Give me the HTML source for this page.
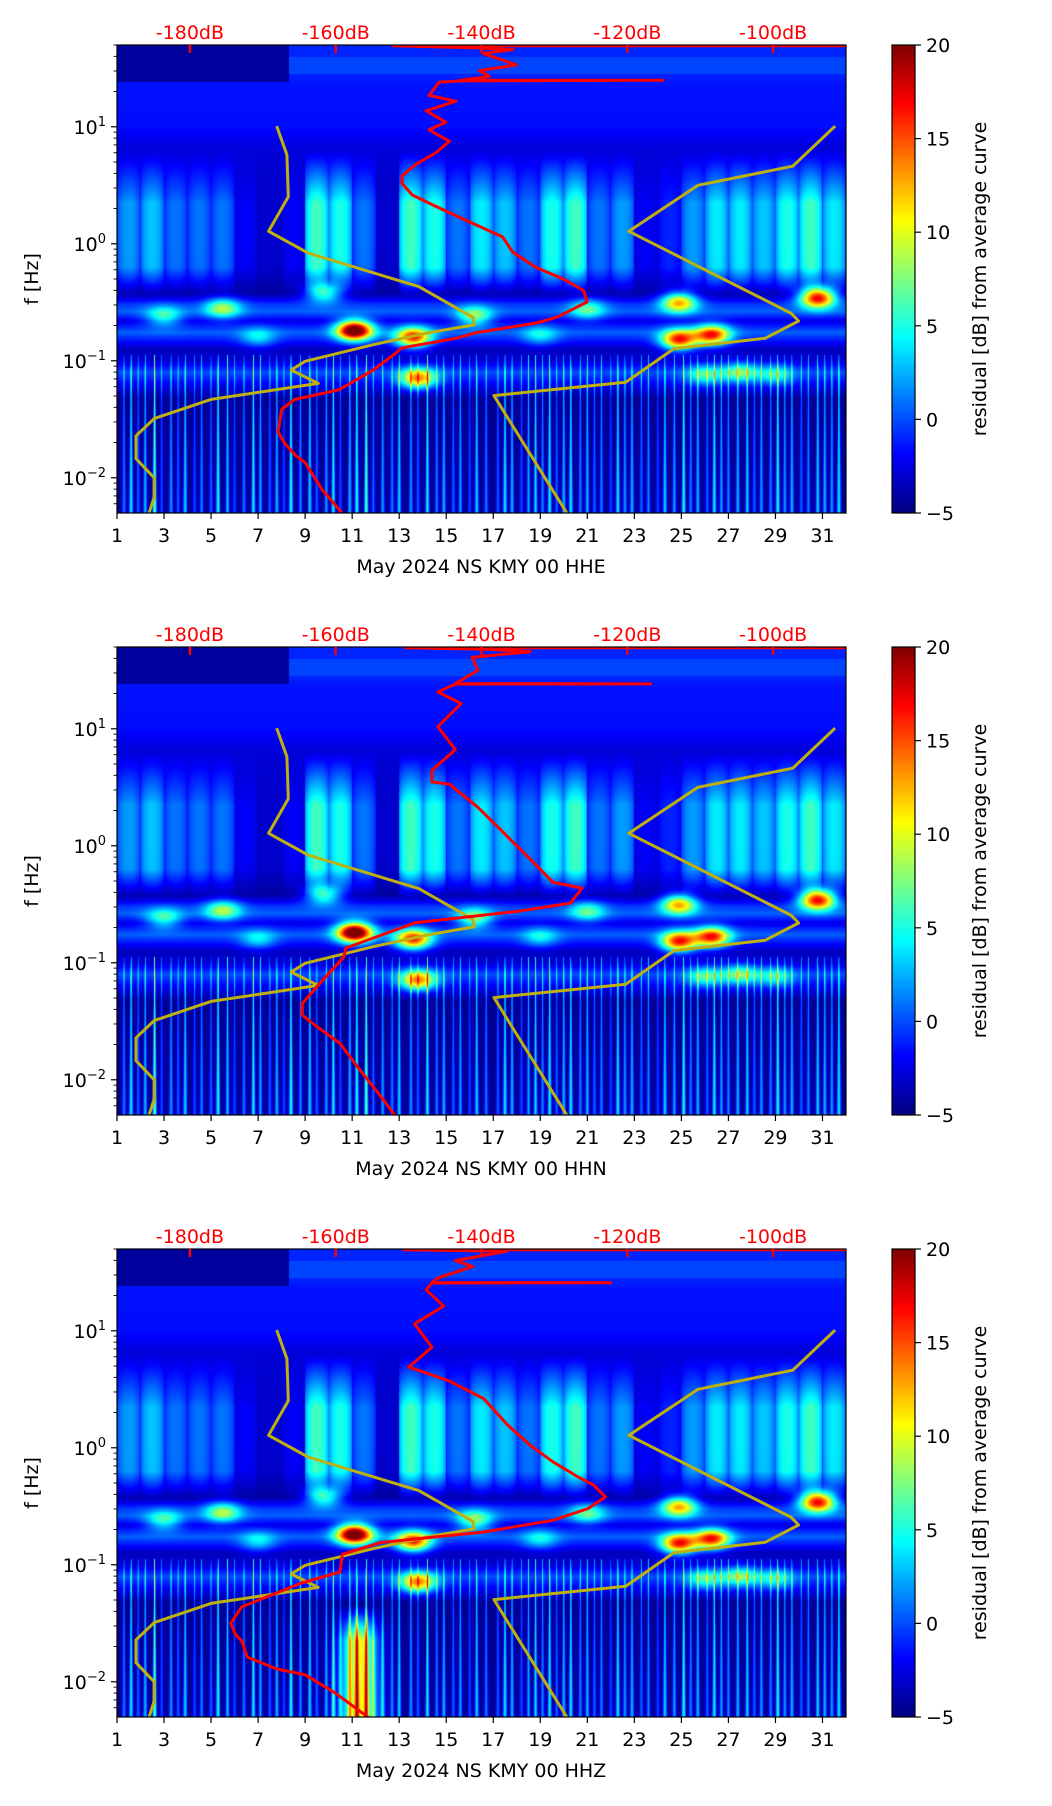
<!DOCTYPE html>
<html><head><meta charset="utf-8">
<style>
html,body{margin:0;padding:0;background:#fff;}
#wrap{position:relative;width:1052px;height:1806px;overflow:hidden;font-family:"DejaVu Sans","Liberation Sans",sans-serif;}
canvas{position:absolute;}
svg{position:absolute;left:0;top:0;}
</style></head>
<body>
<div id="wrap">
<canvas id="hm0" width="729" height="468" style="left:117px;top:45px"></canvas>
<canvas id="hm1" width="729" height="468" style="left:117px;top:647px"></canvas>
<canvas id="hm2" width="729" height="468" style="left:117px;top:1249px"></canvas>
<canvas id="cb0" width="23" height="468" style="left:892px;top:45px"></canvas>
<canvas id="cb1" width="23" height="468" style="left:892px;top:647px"></canvas>
<canvas id="cb2" width="23" height="468" style="left:892px;top:1249px"></canvas>
<svg id="ov" width="1052" height="1806" xmlns="http://www.w3.org/2000/svg"></svg>
</div>
<script>
// ---- data ----
const dayTicks = [1,3,5,7,9,11,13,15,17,19,21,23,25,27,29,31];
const dbTicks = [-180,-160,-140,-120,-100];
const cbTicks = [-5,0,5,10,15,20];
const yDecades = [-2,-1,0,1];
const channels = ["HHE","HHN","HHZ"];
// NLNM (left yellow) : dB , log10 f
const nlnmDb = [-168.1,-166.7,-166.5,-169.2,-163.8,-148.6,-141.2,-141.0,-147.2,-154.5,-164.2,-166.1,-162.4,-177.1,-184.9,-187.4,-187.4,-184.9,-184.9,-185.6];
const nlnmLf = [1.006,0.761,0.402,0.107,-0.079,-0.366,-0.628,-0.693,-0.759,-0.857,-1.004,-1.079,-1.193,-1.330,-1.494,-1.641,-1.837,-2.000,-2.164,-2.301];
// NHNM (right yellow)
const nhnmDb = [-91.5,-97.3,-110.3,-119.8,-97.5,-96.5,-101.1,-113.6,-120.2,-138.3,-128.3];
const nhnmLf = [1.006,0.663,0.500,0.107,-0.595,-0.660,-0.808,-0.896,-1.183,-1.298,-2.301];
// red PSD curves per channel
const red0Db = [-90,-152.2,-141,-135.7,-139.8,-135.2,-140.3,-138.9,-142.8,-115.1,-142.8,-145.8,-147.2,-143.5,-147.6,-144.9,-147.2,-144.4,-146.3,-149.0,-150.9,-150.9,-149.5,-146.3,-141.7,-137.1,-135.7,-132.5,-128.8,-126.0,-125.5,-129.7,-132.5,-140.7,-143.5,-150.9,-152.2,-155.0,-158.2,-159.6,-165.6,-167.4,-167.9,-167.0,-165.6,-164.2,-161.9,-159.2];
const red0Lf = [1.692,1.692,1.675,1.660,1.627,1.529,1.480,1.431,1.398,1.398,1.392,1.382,1.268,1.219,1.137,1.039,0.974,0.876,0.777,0.679,0.581,0.516,0.418,0.320,0.189,0.059,-0.072,-0.203,-0.301,-0.399,-0.497,-0.628,-0.677,-0.759,-0.808,-0.889,-0.955,-1.085,-1.200,-1.249,-1.330,-1.412,-1.608,-1.706,-1.804,-1.870,-2.098,-2.295];
const red1Db = [-90,-150.5,-139.6,-133.3,-141.3,-140.5,-143.6,-116.8,-143.6,-146,-142.8,-146,-143.6,-146.8,-146.8,-144.4,-140.5,-138.1,-133.3,-130.2,-126.2,-127.8,-134.9,-149.1,-158.6,-158.9,-161.8,-164.6,-164.6,-162.6,-159.4,-157.0,-153.9,-151.8];
const red1Lf = [1.692,1.692,1.68,1.66,1.61,1.5,1.386,1.384,1.382,1.314,1.216,1.019,0.822,0.644,0.546,0.526,0.329,0.181,-0.115,-0.312,-0.362,-0.49,-0.559,-0.657,-0.874,-0.953,-1.15,-1.348,-1.446,-1.545,-1.69,-1.89,-2.136,-2.31];
const red2Db = [-90,-150.7,-136.5,-143.6,-141.2,-146.0,-146.8,-122.3,-146.8,-147.6,-145.2,-149.2,-146.8,-150.0,-147.6,-144.4,-139.7,-136.5,-133.3,-130.2,-127.0,-124.6,-123.0,-125.4,-130.2,-139.7,-153.9,-159.1,-159.4,-164.9,-172.9,-174.4,-173.7,-172.9,-172.1,-168.1,-164.2,-160.2,-155.5];
const red2Lf = [1.692,1.692,1.68,1.60,1.55,1.45,1.412,1.41,1.408,1.35,1.21,1.06,0.86,0.69,0.64,0.57,0.42,0.20,0.02,-0.12,-0.24,-0.32,-0.42,-0.52,-0.62,-0.72,-0.81,-0.91,-1.06,-1.16,-1.36,-1.50,-1.60,-1.65,-1.79,-1.89,-1.94,-2.09,-2.304];
// spectrogram background profile (residual dB vs log10 f)
const baseLf  = [1.70,1.45,1.35,1.00,0.85,0.70,0.55,0.40,0.00,-0.30,-0.42,-0.52,-0.58,-0.66,-0.76,-0.90,-1.00,-1.10,-1.22,-1.32,-2.30];
const baseVal = [-1.0,-1.0,-1.5,-1.6,-2.6,-3.2,-3.6,-4.0,-4.0,-4.2,-4.3,-0.5,0.5,-2.5,0.5,-3.5,-3.0,0.0,-2.5,-4.5,-4.5];
// per-day plume strength (0.3-3 Hz)
const plumeAmp = [6,7,5,5,5,2,1,2,10,9,5,1,10,9,5,8,7,5,9,10,5,6,2,3,6,8,8,7,9,10,8];
// blobs: day, log10 f, amplitude
const blobDay = [11.1,13.6,13.8,24.9,24.9,26.3,30.8,16.2,5.5,9.8,27.5,21.0,3.0,26.0,29.0,7.0,19.0];
const blobLf  = [-0.74,-0.80,-1.15,-0.50,-0.82,-0.78,-0.46,-0.62,-0.55,-0.42,-1.10,-0.56,-0.62,-1.12,-1.12,-0.80,-0.78];
const blobAmp = [24,17,15,14,18,17,20,9,9,9,8,7,7,7,6,5,5];
// low-frequency vertical streaks: day, amplitude
const streakDay = [1.3,1.6,1.9,2.2,2.6,2.9,3.3,3.6,3.9,4.3,4.6,5.0,5.3,5.7,6.0,6.4,6.8,7.1,7.5,7.8,8.1,8.4,8.8,9.2,9.5,9.9,10.2,10.5,10.9,11.2,11.6,11.9,12.3,12.7,13.0,13.5,13.8,14.2,14.6,14.9,15.3,15.6,16.0,16.3,16.7,17.2,17.5,17.8,18.2,18.5,18.8,19.1,19.4,19.7,20.0,20.3,20.7,21.0,21.3,21.6,22.0,22.3,22.6,22.9,23.3,23.6,24.0,24.3,24.7,25.1,25.4,25.7,26.1,26.4,26.7,27.0,27.4,27.8,28.1,28.4,28.8,29.1,29.4,29.7,30.1,30.4,30.8,31.1,31.4,31.7];
const streakAmp = [8,12,7,10,15,6,9,7,11,6,8,7,13,10,6,8,12,9,7,10,6,13,8,11,7,9,12,6,10,13,15,7,9,8,11,9,7,12,8,10,7,9,6,11,8,7,12,10,6,9,11,8,12,7,10,12,8,10,7,8,6,12,9,10,7,8,6,11,9,13,8,10,7,12,9,8,10,11,7,9,8,13,9,10,7,8,11,10,9,12];

// ---- geometry ----
const X0=117, W=729, H=468, TOPS=[45,647,1249];
const LFMIN=-2.301, LFMAX=1.699;
function xDay(d){return X0+(d-1)/31*W;}
function xDb(db){return X0+(db+190)/100*W;}
function yLf(top,lf){return top+(LFMAX-lf)/(LFMAX-LFMIN)*H;}
function yCb(top,v){return top+(20-v)/25*H;}

function jet(t){
  t=Math.max(0,Math.min(1,t));
  const c=x=>Math.max(0,Math.min(1,x));
  return [c(1.5-Math.abs(4*t-3))*255, c(1.5-Math.abs(4*t-2))*255, c(1.5-Math.abs(4*t-1))*255];
}
function interp(xs,ys,x){
  if(x>=xs[0]) return ys[0];
  for(let i=1;i<xs.length;i++){ if(x>=xs[i]){const f=(x-xs[i])/(xs[i-1]-xs[i]);return ys[i]+f*(ys[i-1]-ys[i]);} }
  return ys[ys.length-1];
}
function value(p,day,lf){
  let v=interp(baseLf,baseVal,lf);
  if(lf>-0.45&&lf<0.8){
    const i=Math.min(30,Math.max(0,Math.floor(day-1)));
    const fr=day-1-i;
    const s=Math.sin(Math.PI*fr);
    let prof = lf>0.35 ? (0.8-lf)/0.45 : (lf<-0.2 ? (lf+0.45)/0.25 : 1);
    v+= plumeAmp[i]*(0.5+0.5*Math.sqrt(s))*prof;
  }
  if(lf>1.38){ v = day<8.3 ? -4.3 : v+ (lf>1.45&&lf<1.6?0.8:0); }
  if(lf<-0.95){
    const w=0.03+0.11*(-0.95-lf)/1.35;
    for(let k=0;k<streakDay.length;k++){
      const dd=Math.abs(day-streakDay[k]);
      if(dd<w) v+=streakAmp[k]*(1-dd/w)*0.8;
    }
  }
  for(let k=0;k<blobDay.length;k++){
    const a=(day-blobDay[k])/0.75, b=(lf-blobLf[k])/0.085;
    const e=a*a+b*b; if(e<9) v+=blobAmp[k]*Math.exp(-e);
  }
  if(p===2&&lf<-1.35){ const a=(day-11.3)/0.75; const e=a*a; if(e<9) v+=15*Math.exp(-e)*Math.min(1,(-1.35-lf)/0.3); }
  return Math.max(-5,Math.min(20,v));
}
for(let p=0;p<3;p++){
  const cv=document.getElementById('hm'+p), ctx=cv.getContext('2d');
  const img=ctx.createImageData(W,H);
  for(let y=0;y<H;y++){
    const lf=LFMAX-(y+0.5)/H*(LFMAX-LFMIN);
    for(let x=0;x<W;x++){
      const day=1+(x+0.5)/W*31;
      const c=jet((value(p,day,lf)+5)/25);
      const o=(y*W+x)*4; img.data[o]=c[0];img.data[o+1]=c[1];img.data[o+2]=c[2];img.data[o+3]=255;
    }
  }
  ctx.putImageData(img,0,0);
  const cb=document.getElementById('cb'+p).getContext('2d');
  for(let y=0;y<H;y++){const c=jet(1-(y+0.5)/H);cb.fillStyle=`rgb(${c[0]|0},${c[1]|0},${c[2]|0})`;cb.fillRect(0,y,23,1);}
}

// ---- overlay ----
const NS="http://www.w3.org/2000/svg";
const svg=document.getElementById('ov');
function el(tag,attrs,parent){const e=document.createElementNS(NS,tag);for(const k in attrs)e.setAttribute(k,attrs[k]);(parent||svg).appendChild(e);return e;}
const defs=el('defs',{});
for(let p=0;p<3;p++){
  const top=TOPS[p], bot=top+H;
  const cp=el('clipPath',{id:'clip'+p},defs); el('rect',{x:X0,y:top,width:W,height:H},cp);
  const g=el('g',{});
  
  
  const lines=el('g',{'clip-path':'url(#clip'+p+')'},g);
  function poly(dbs,lfs,color,name){
    const pts=dbs.map((d,i)=>xDb(d).toFixed(1)+','+yLf(top,lfs[i]).toFixed(1)).join(' ');
    const pl=el('polyline',{points:pts,fill:'none',stroke:color,'stroke-width':3,'stroke-linejoin':'round'},lines);
    
    
  }
  poly(nlnmDb,nlnmLf,'#bfb010','nlnm-curve');
  poly(nhnmDb,nhnmLf,'#bfb010','nhnm-curve');
  const rd=[red0Db,red1Db,red2Db][p], rl=[red0Lf,red1Lf,red2Lf][p];
  poly(rd,rl,'#ff0000','psd-curve');
  el('rect',{x:X0,y:top,width:W,height:H,fill:'none',stroke:'#000','stroke-width':1.2},g);
  dayTicks.forEach(d=>{
    const x=xDay(d);
    el('line',{x1:x,y1:bot,x2:x,y2:bot+6,stroke:'#000','stroke-width':1.2},g);
    const t=el('text',{x:x,y:bot+29,'text-anchor':'middle','font-size':19,fill:'#000'},g); t.textContent=d;
    
    
  });
  dbTicks.forEach(db=>{
    const x=xDb(db);
    el('line',{x1:x,y1:top,x2:x,y2:top+8,stroke:'#ff0000','stroke-width':2.5},g);
    const t=el('text',{x:x,y:top-6,'text-anchor':'middle','font-size':19,fill:'#ff0000'},g); t.textContent=db+'dB';
    
    
  });
  for(let k=-3;k<=1;k++){
    for(let m=1;m<10;m++){
      const lf=k+Math.log10(m);
      if(lf<LFMIN-1e-6||lf>LFMAX+1e-6) continue;
      const y=yLf(top,lf);
      el('line',{x1:X0,y1:y,x2:X0-(m===1?6:3.5),y2:y,stroke:'#000','stroke-width':m===1?1.2:0.9},g);
    }
  }
  yDecades.forEach(k=>{
    const y=yLf(top,k);
    const t=el('text',{x:106,y:y+7,'text-anchor':'end','font-size':19,fill:'#000'},g);
    
    
    t.appendChild(document.createTextNode('10'));
    const s=el('tspan',{dy:-8,'font-size':13},t); s.textContent=(k<0?'\u2212':'')+Math.abs(k);
  });
  const yl=el('text',{x:0,y:0,transform:`translate(38,${top+H/2}) rotate(-90)`,'text-anchor':'middle','font-size':19},g);
  yl.textContent='f [Hz]';
  
  
  const xl=el('text',{x:481,y:bot+60,'text-anchor':'middle','font-size':19},g);
  xl.textContent='May 2024 NS KMY 00 '+channels[p];
  
  
  el('rect',{x:892,y:top,width:23,height:H,fill:'none',stroke:'#000','stroke-width':1.2},g);
  cbTicks.forEach(v=>{
    const y=yCb(top,v);
    el('line',{x1:915,y1:y,x2:921,y2:y,stroke:'#000','stroke-width':1.2},g);
    const t=el('text',{x:926,y:y+7,'font-size':19},g); t.textContent=(v<0?'\u2212':'')+Math.abs(v);
    
    
  });
  const cl=el('text',{x:0,y:0,transform:`translate(986,${top+H/2}) rotate(-90)`,'text-anchor':'middle','font-size':19},g);
  cl.textContent='residual [dB] from average curve';
  
  
}
</script>
</body></html>
